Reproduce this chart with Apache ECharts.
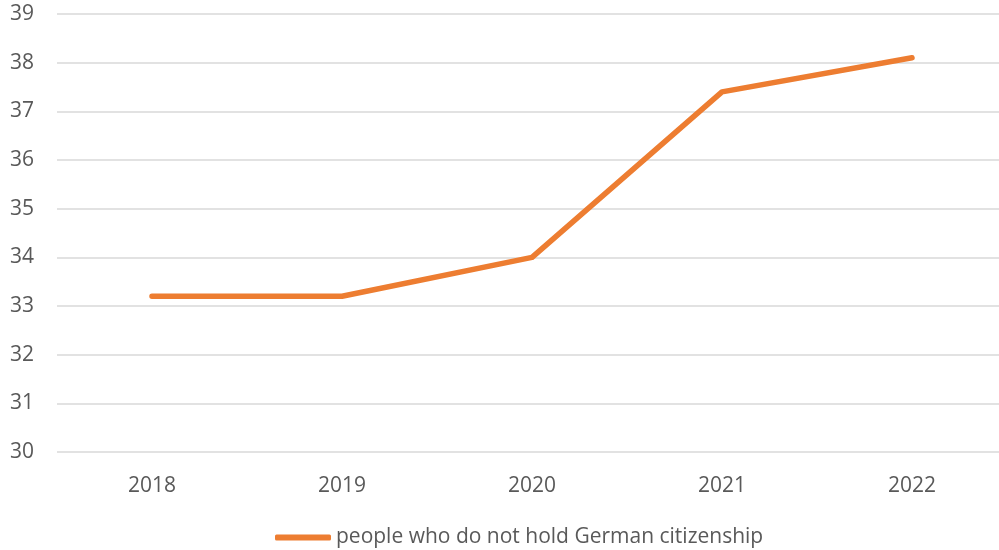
<!DOCTYPE html>
<html>
<head>
<meta charset="utf-8">
<script src="https://cdn.jsdelivr.net/npm/echarts@6/dist/echarts.min.js"></script>
<style>
  html, body { margin: 0; padding: 0; background: #fff; }
  #chart { width: 999px; height: 550px; }
</style>
</head>
<body>
<div id="chart"></div>
<script>
// Share of people without German citizenship, 2018–2022
const years = ['2018', '2019', '2020', '2021', '2022'];
const seriesName = 'people who do not hold German citizenship';
const values = [33.2, 33.2, 34.0, 37.4, 38.1];
const yMin = 30;
const yMax = 39;
const yStep = 1;

const textColor = '#595959';
const gridColor = '#d9d9d9';
const lineColor = '#ED7D31';
const fontFamily = 'Open Sans, Noto Sans, sans-serif';

const chart = echarts.init(document.getElementById('chart'), null, { renderer: 'canvas' });
chart.setOption({
  animation: false,
  textStyle: { fontFamily: fontFamily },
  grid: [
    // background grid: value axis labels and horizontal gridlines across the full width
    { left: 57, top: 14, right: 0, height: 438, containLabel: false },
    // plotting grid: first and last category centres sit on its edges
    { left: 152, top: 14, width: 760, height: 438, containLabel: false }
  ],
  legend: {
    top: 522,
    left: 270,
    itemWidth: 56,
    itemHeight: 6,
    itemGap: 5,
    icon: 'roundRect',
    textStyle: { color: textColor, fontSize: 21, fontFamily: fontFamily },
    data: [seriesName]
  },
  xAxis: [
    {
      gridIndex: 0,
      type: 'category',
      data: years,
      show: false
    },
    {
      gridIndex: 1,
      type: 'category',
      data: years,
      boundaryGap: false,
      axisLine: { show: false },
      axisTick: { show: false },
      splitLine: { show: false },
      axisLabel: { color: textColor, fontSize: 21, margin: 24, fontFamily: fontFamily }
    }
  ],
  yAxis: [
    {
      gridIndex: 0,
      type: 'value',
      min: yMin,
      max: yMax,
      interval: yStep,
      axisLine: { show: false },
      axisTick: { show: false },
      axisLabel: { color: textColor, fontSize: 21, margin: 23, fontFamily: fontFamily },
      splitLine: { lineStyle: { color: gridColor, width: 1.5 } }
    },
    {
      gridIndex: 1,
      type: 'value',
      min: yMin,
      max: yMax,
      interval: yStep,
      show: false,
      splitLine: { show: false }
    }
  ],
  series: [{
    name: seriesName,
    type: 'line',
    xAxisIndex: 1,
    yAxisIndex: 1,
    data: values,
    symbol: 'none',
    lineStyle: { color: lineColor, width: 5.5, cap: 'round', join: 'round' },
    itemStyle: { color: lineColor }
  }]
});
</script>
</body>
</html>
